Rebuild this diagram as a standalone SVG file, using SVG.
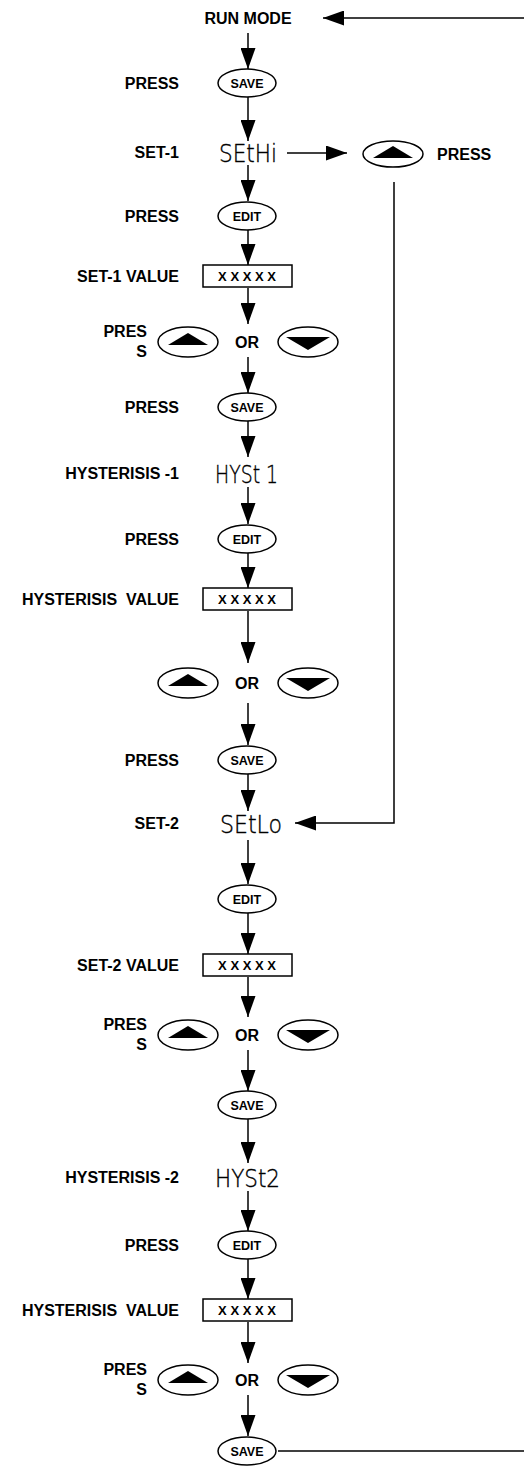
<svg xmlns="http://www.w3.org/2000/svg" width="524" height="1466" viewBox="0 0 524 1466">
<style>
.lbl{font-family:"Liberation Sans",Arial,sans-serif;font-weight:bold;font-size:16px;fill:#000;text-anchor:end}
.btxt{font-family:"Liberation Sans",Arial,sans-serif;font-weight:bold;font-size:12.5px;fill:#000;text-anchor:middle}
.or{font-family:"Liberation Sans",Arial,sans-serif;font-weight:bold;font-size:16px;fill:#000;text-anchor:middle}
.seg{font-family:"DejaVu Sans","DejaVu Sans Mono",sans-serif;font-weight:200;font-size:25px;fill:#000;stroke:#000;stroke-width:0.4;text-anchor:start}
.btn{fill:#fff;stroke:#000;stroke-width:1.5}
.box{fill:#fff;stroke:#000;stroke-width:1.5}
.ln{fill:none;stroke:#000;stroke-width:1.5}
.tri{fill:#000}
</style>
<defs>
<marker id="ah" viewBox="0 0 21 15" refX="21" refY="7.5" markerWidth="21" markerHeight="15" markerUnits="userSpaceOnUse" orient="auto"><path d="M0,0 L21,7.5 L0,15 z" fill="#000"/></marker>
</defs>

<g id="connectors">
<line class="ln" x1="524" y1="18" x2="323" y2="18" marker-end="url(#ah)"/>
<line class="ln" x1="248" y1="33" x2="248" y2="69" marker-end="url(#ah)"/>
<line class="ln" x1="248" y1="97" x2="248" y2="141" marker-end="url(#ah)"/>
<line class="ln" x1="287" y1="153" x2="347" y2="153" marker-end="url(#ah)"/>
<polyline class="ln" points="394,182 394,823 295,823" marker-end="url(#ah)"/>
<line class="ln" x1="248" y1="165" x2="248" y2="201" marker-end="url(#ah)"/>
<line class="ln" x1="248" y1="230" x2="248" y2="265" marker-end="url(#ah)"/>
<line class="ln" x1="248" y1="288" x2="248" y2="324" marker-end="url(#ah)"/>
<line class="ln" x1="248" y1="357" x2="248" y2="393" marker-end="url(#ah)"/>
<line class="ln" x1="248" y1="421" x2="248" y2="457" marker-end="url(#ah)"/>
<line class="ln" x1="248" y1="487" x2="248" y2="524" marker-end="url(#ah)"/>
<line class="ln" x1="248" y1="553" x2="248" y2="588" marker-end="url(#ah)"/>
<line class="ln" x1="248" y1="611" x2="248" y2="663" marker-end="url(#ah)"/>
<line class="ln" x1="248" y1="703" x2="248" y2="745" marker-end="url(#ah)"/>
<line class="ln" x1="248" y1="774" x2="248" y2="811" marker-end="url(#ah)"/>
<line class="ln" x1="248" y1="840" x2="248" y2="884" marker-end="url(#ah)"/>
<line class="ln" x1="248" y1="913" x2="248" y2="954" marker-end="url(#ah)"/>
<line class="ln" x1="248" y1="977" x2="248" y2="1017" marker-end="url(#ah)"/>
<line class="ln" x1="248" y1="1050" x2="248" y2="1091" marker-end="url(#ah)"/>
<line class="ln" x1="248" y1="1119" x2="248" y2="1163" marker-end="url(#ah)"/>
<line class="ln" x1="248" y1="1191" x2="248" y2="1231" marker-end="url(#ah)"/>
<line class="ln" x1="248" y1="1259" x2="248" y2="1299" marker-end="url(#ah)"/>
<line class="ln" x1="248" y1="1322" x2="248" y2="1363" marker-end="url(#ah)"/>
<line class="ln" x1="248" y1="1395" x2="248" y2="1436" marker-end="url(#ah)"/>
<line class="ln" x1="278" y1="1451" x2="524" y2="1451"/>
</g>

<g id="run-mode"><text x="248" y="24" class="or">RUN MODE</text></g>

<g id="save1"><text x="179" y="89" class="lbl">PRESS</text><ellipse class="btn" cx="247" cy="83" rx="29" ry="14"/><text x="247" y="88" class="btxt">SAVE</text></g>

<g id="set1"><text x="179" y="158" class="lbl">SET-1</text><text x="219" y="162" class="seg" textLength="58" lengthAdjust="spacingAndGlyphs">SEtHi</text></g>

<g id="up-right"><ellipse class="btn" cx="393" cy="154" rx="30" ry="13"/><polygon class="tri" points="373,158 413,158 393,146"/><text x="437" y="160" class="lbl" style="text-anchor:start">PRESS</text></g>

<g id="edit1"><text x="179" y="222" class="lbl">PRESS</text><ellipse class="btn" cx="247" cy="216" rx="29" ry="14"/><text x="247" y="221" class="btxt">EDIT</text></g>

<g id="value1"><text x="179" y="282" class="lbl">SET-1 VALUE</text><rect class="box" x="203" y="265" width="89" height="22"/><text x="247" y="281" class="btxt" style="font-size:13px">X X X X X</text></g>

<g id="updown1"><text x="147" y="337" class="lbl">PRES</text><text x="147" y="357" class="lbl">S</text><ellipse class="btn" cx="188" cy="342" rx="30" ry="15"/><polygon class="tri" points="168,345 208,345 188,333"/><text x="247" y="348" class="or">OR</text><ellipse class="btn" cx="308" cy="342" rx="30" ry="15"/><polygon class="tri" points="286,337 330,337 308,350"/></g>

<g id="save2"><text x="179" y="413" class="lbl">PRESS</text><ellipse class="btn" cx="247" cy="407" rx="29" ry="14"/><text x="247" y="412" class="btxt">SAVE</text></g>

<g id="hyst1"><text x="179" y="479" class="lbl">HYSTERISIS -1</text><text x="215" y="483" class="seg" textLength="63" lengthAdjust="spacingAndGlyphs" xml:space="preserve">HYSt 1</text></g>

<g id="edit2"><text x="179" y="545" class="lbl">PRESS</text><ellipse class="btn" cx="247" cy="539" rx="29" ry="14"/><text x="247" y="544" class="btxt">EDIT</text></g>

<g id="value2"><text x="179" y="605" class="lbl" xml:space="preserve">HYSTERISIS  VALUE</text><rect class="box" x="203" y="588" width="89" height="22"/><text x="247" y="604" class="btxt" style="font-size:13px">X X X X X</text></g>

<g id="updown2"><ellipse class="btn" cx="188" cy="683" rx="30" ry="15"/><polygon class="tri" points="168,686 208,686 188,674"/><text x="247" y="689" class="or">OR</text><ellipse class="btn" cx="308" cy="683" rx="30" ry="15"/><polygon class="tri" points="286,678 330,678 308,691"/></g>

<g id="save3"><text x="179" y="766" class="lbl">PRESS</text><ellipse class="btn" cx="247" cy="760" rx="29" ry="14"/><text x="247" y="765" class="btxt">SAVE</text></g>

<g id="set2"><text x="179" y="829" class="lbl">SET-2</text><text x="220" y="833" class="seg" textLength="62" lengthAdjust="spacingAndGlyphs">SEtLo</text></g>

<g id="edit3"><ellipse class="btn" cx="247" cy="899" rx="29" ry="14"/><text x="247" y="904" class="btxt">EDIT</text></g>

<g id="value3"><text x="179" y="971" class="lbl">SET-2 VALUE</text><rect class="box" x="203" y="954" width="89" height="22"/><text x="247" y="970" class="btxt" style="font-size:13px">X X X X X</text></g>

<g id="updown3"><text x="147" y="1030" class="lbl">PRES</text><text x="147" y="1050" class="lbl">S</text><ellipse class="btn" cx="188" cy="1035" rx="30" ry="15"/><polygon class="tri" points="168,1038 208,1038 188,1026"/><text x="247" y="1041" class="or">OR</text><ellipse class="btn" cx="308" cy="1035" rx="30" ry="15"/><polygon class="tri" points="286,1030 330,1030 308,1043"/></g>

<g id="save4"><ellipse class="btn" cx="247" cy="1105" rx="29" ry="14"/><text x="247" y="1110" class="btxt">SAVE</text></g>

<g id="hyst2"><text x="179" y="1183" class="lbl">HYSTERISIS -2</text><text x="215" y="1187" class="seg" textLength="65" lengthAdjust="spacingAndGlyphs">HYSt2</text></g>

<g id="edit4"><text x="179" y="1251" class="lbl">PRESS</text><ellipse class="btn" cx="247" cy="1245" rx="29" ry="14"/><text x="247" y="1250" class="btxt">EDIT</text></g>

<g id="value4"><text x="179" y="1316" class="lbl" xml:space="preserve">HYSTERISIS  VALUE</text><rect class="box" x="203" y="1299" width="89" height="22"/><text x="247" y="1315" class="btxt" style="font-size:13px">X X X X X</text></g>

<g id="updown4"><text x="147" y="1375" class="lbl">PRES</text><text x="147" y="1395" class="lbl">S</text><ellipse class="btn" cx="188" cy="1380" rx="30" ry="15"/><polygon class="tri" points="168,1383 208,1383 188,1371"/><text x="247" y="1386" class="or">OR</text><ellipse class="btn" cx="308" cy="1380" rx="30" ry="15"/><polygon class="tri" points="286,1375 330,1375 308,1388"/></g>

<g id="save5"><ellipse class="btn" cx="247" cy="1451" rx="29" ry="14"/><text x="247" y="1456" class="btxt">SAVE</text></g>
</svg>
